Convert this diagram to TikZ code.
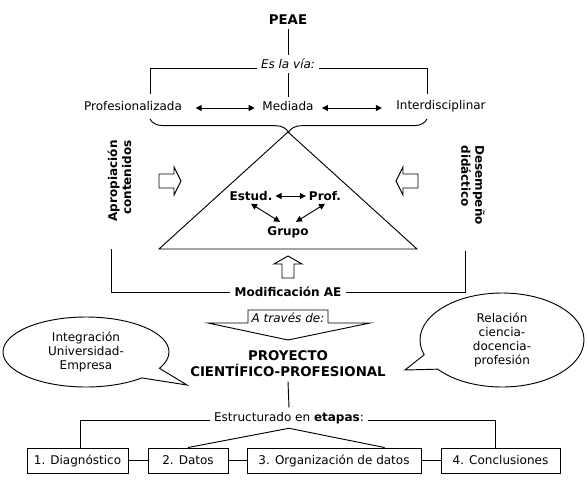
\documentclass[tikz,border=0pt]{standalone}
\usepackage{fontspec}
\setmainfont{DejaVu Sans}[ItalicFont={DejaVu Sans Oblique},BoldFont={DejaVu Sans Bold},BoldItalicFont={DejaVu Sans Bold Oblique}]
\usetikzlibrary{arrows.meta,decorations.pathreplacing,shapes.callouts}
\begin{document}
\begin{tikzpicture}[x=0.75pt,y=-0.75pt,line width=0.7pt,
  txt/.style={font=\fontsize{9}{10.5}\selectfont,inner sep=3pt},
  itx/.style={font=\fontsize{9}{10.5}\selectfont\itshape,inner sep=3pt},
  bld/.style={font=\fontsize{9}{10.5}\selectfont\bfseries,inner sep=2pt},
  big/.style={font=\fontsize{10}{12}\selectfont\bfseries,align=center,inner sep=3pt},
  dbl/.style={{Triangle[length=4.5pt,width=4.5pt]}-{Triangle[length=4.5pt,width=4.5pt]}},
  hollow/.style={draw,fill=white,line width=0.7pt},
  stage/.style={draw,font=\fontsize{9}{10.5}\selectfont,minimum height=18.75pt,inner sep=0pt},
  bubble/.style={ellipse callout,draw,align=center,font=\fontsize{9}{10.5}\selectfont,inner sep=0pt,callout pointer arc=20}]
\fill[white] (0,0) rectangle (588,485);
\useasboundingbox (0,0) rectangle (588,485);

% top
\node[big] (peae) at (288,20) {PEAE};
\node[itx] (esla) at (288,64) {Es la vía:};
\node[txt] (prof) at (133,106) {Profesionalizada};
\node[txt] (med) at (288,106) {Mediada};
\node[txt] (inter) at (441,106) {Interdisciplinar};
\coordinate (pl) at (150,94);
\coordinate (pr) at (427,94);
\draw (peae.south) -- (esla.north);
\draw (esla.south) -- (med.north);
\draw ([yshift=-3pt]esla.west) -| (pl);
\draw ([yshift=-3pt]esla.east) -| (pr);
\draw[dbl,shorten <=7pt,shorten >=2.5pt] ([yshift=-1.5pt]prof.east) -- ([yshift=-1.5pt]med.west);
\draw[dbl,shorten <=3pt,shorten >=7.5pt] ([yshift=-1.5pt]med.east) -- ([yshift=-1.5pt]inter.west);
\draw[decorate,decoration={brace,mirror,amplitude=10pt}] (150,119) -- (427,119);

% triangle
\draw (288,132) -- (159,249) -- (417,249) -- cycle;
\node[bld] (est) at (251,196) {Estud.};
\node[bld] (pro) at (325,196) {Prof.};
\node[bld] (gru) at (288,232) {Grupo};
\draw[dbl] (est.east) -- (pro.west);
\draw[dbl] (est.south) -- ([xshift=-6pt,yshift=1pt]gru.north);
\draw[dbl] (pro.south) -- ([xshift=6pt,yshift=1pt]gru.north);

% hollow arrows
\draw[hollow] (159,174) -- (174,174) -- (174,167) -- (181,181) -- (174,195) -- (174,188) -- (159,188) -- cycle;
\draw[hollow] (418,174) -- (403,174) -- (403,167) -- (396,181) -- (403,195) -- (403,188) -- (418,188) -- cycle;
\draw[hollow] (288,256) -- (302,264) -- (294,264) -- (294,278) -- (282,278) -- (282,264) -- (274,264) -- cycle;

% side labels
\node[bld,rotate=90,anchor=east,align=right,inner sep=0pt] (apro) at (119.5,140) {Apropiación\\contenidos};
\node[bld,rotate=-90,anchor=west,align=left,inner sep=0pt] (dese) at (473,145) {Desempeño\\didáctico};

% lower bracket
\node[bld,inner sep=3pt] (mod) at (288,292) {Modificación AE};
\coordinate (ml) at (111,249);
\coordinate (mr) at (465,251);
\draw (mod.west) -| (ml);
\draw (mod.east) -| (mr);

% a traves de
\draw (248,310) -- (328,310) -- (328,323) -- (370,323) -- (288,340) -- (208,323) -- (248,323) -- cycle;
\node[itx] (atra) at (288,318) {A través de:};

% project
\node[big] (proy) at (288,364) {PROYECTO\\CIENTÍFICO-PROFESIONAL};
\coordinate (lp) at (187,385);
\coordinate (rp) at (405,370);
\node[bubble,minimum width=124.5pt,minimum height=52.5pt,callout absolute pointer=(lp)] (cl) at (86,352) {Integración\\Universidad-\\Empresa};
\node[bubble,minimum width=123pt,minimum height=70.5pt,callout absolute pointer=(rp)] (cr) at (502,340) {Relación\\ciencia-\\docencia-\\profesión};

% stages
\node[txt] (estr) at (289,418) {Estructurado en \textbf{etapas}:};
\draw (proy.south) -- (estr.north);
\node[stage,minimum width=75.75pt] (b1) at (77.5,460.5) {1. Diagnóstico};
\node[stage,minimum width=60pt] (b2) at (188,460.5) {2. Datos};
\node[stage,minimum width=130.5pt] (b3) at (334,460.5) {3. Organización de datos};
\node[stage,minimum width=89.25pt] (b4) at (500.5,460.5) {4. Conclusiones};
\coordinate (s1) at (80,448);
\coordinate (s4) at (495,448);
\draw ([yshift=-1.5pt]estr.west) -| (s1);
\draw ([yshift=-1.5pt]estr.east) -| (s4);
\draw (b2.north) -- (estr.south) -- ([xshift=38pt]b3.north);
\draw (b1) -- (b2);
\draw (b2) -- (b3);
\draw (b3) -- (b4);
\end{tikzpicture}
\end{document}
